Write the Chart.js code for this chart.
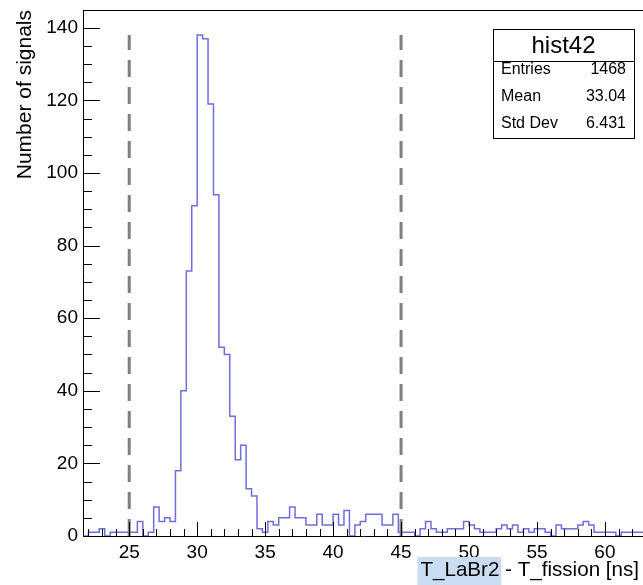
<!DOCTYPE html>
<html><head><meta charset="utf-8">
<script src="https://cdn.jsdelivr.net/npm/chart.js@4.4.1/dist/chart.umd.min.js"></script>
<style>html,body{margin:0;padding:0;background:#fff}#wrap{width:643px;height:585px}</style>
</head><body><div id="wrap"><canvas id="c" width="643" height="585"></canvas></div>
<script>
// ---- data ----
const histName = 'hist42';
const binStart = 21.6;      // lower edge of first shown bin [ns]
const binWidth = 0.4;       // [ns]
const counts = [
  0,1,1,2,0,1,1,1,1,1,
  4,0,1,8,4,5,4,18,40,73,
  91,138,137,119,94,52,50,33,21,25,
  13,11,2,1,4,3,5,5,8,5,
  5,3,3,6,3,3,6,3,7,0,
  3,4,6,6,6,3,3,6,1,1,
  1,0,2,4,2,1,1,2,2,2,
  4,3,2,1,1,1,2,3,2,3,
  1,2,1,2,2,1,0,3,2,2,
  2,3,4,3,1,1,1,1,0,1,
  1,1,1
];
const cutLines = [25, 45];
const cutLineTop = 138;
const statLabels = ['Entries', 'Mean', 'Std Dev'];
const statValues = ['1468', '33.04', '6.431'];
const xTitleParts = ['T_LaBr2', ' - T_fission [ns]'];
const yTitle = 'Number of signals';
const xRange = [21.6, 62.8];
const yRange = [0, 144.9];
const xTickStep = 5, xMinorStep = 1;
const yTickStep = 20, yMinorStep = 5;

// ---- build ----
const histPts = counts.map((c, i) => ({x: binStart + i * binWidth, y: c}));
histPts.push({x: binStart + counts.length * binWidth, y: counts[counts.length - 1]});

const FONT = "'Liberation Sans', Arial, Helvetica, sans-serif";

const cutSets = cutLines.map(v => ({
  data: [{x: v, y: 0}, {x: v, y: cutLineTop}],
  borderColor: '#7f7f7f', borderWidth: 3, borderDash: [17, 10],
  pointRadius: 0, fill: false, tension: 0
}));

const rootPlugin = {
  id: 'rootDecor',
  afterDraw(chart) {
    const ctx = chart.ctx, a = chart.chartArea;
    const xs = chart.scales.x, ys = chart.scales.y;
    ctx.save();
    // top frame line
    ctx.strokeStyle = '#000'; ctx.lineWidth = 1;
    ctx.beginPath(); ctx.moveTo(a.left, a.top + 0.5); ctx.lineTo(a.right, a.top + 0.5); ctx.stroke();
    // y ticks (inward)
    ctx.beginPath();
    for (let v = yRange[0]; v <= yRange[1] + 1e-9; v += yMinorStep) {
      const y = Math.round(ys.getPixelForValue(v)) + 0.5;
      const len = (Math.abs(v % yTickStep) < 1e-6) ? 17 : 9;
      ctx.moveTo(a.left, y); ctx.lineTo(a.left + len, y);
    }
    // x ticks (inward)
    for (let v = Math.ceil(xRange[0]); v <= xRange[1] + 1e-9; v += xMinorStep) {
      const x = Math.round(xs.getPixelForValue(v)) + 0.5;
      const len = (v % xTickStep === 0) ? 14 : 7;
      ctx.moveTo(x, a.bottom); ctx.lineTo(x, a.bottom - len);
    }
    ctx.stroke();

    // x axis title with highlighted first part
    ctx.font = '20.6px ' + FONT;
    const w0 = ctx.measureText(xTitleParts[0]).width;
    const w1 = ctx.measureText(xTitleParts[1]).width;
    const xEnd = 639, base = 576;
    const x0 = xEnd - w0 - w1;
    ctx.fillStyle = '#cadcf2';
    ctx.fillRect(x0 - 3, 557, w0 + 5, 28);
    ctx.fillStyle = '#000';
    ctx.textBaseline = 'alphabetic'; ctx.textAlign = 'left';
    ctx.fillText(xTitleParts[0], x0, base);
    ctx.fillText(xTitleParts[1], x0 + w0, base);

    // stats box
    const bx = 493, by = 29, bw = 141, bh = 109, hh = 32;
    ctx.fillStyle = '#fff';
    ctx.fillRect(bx, by, bw, bh);
    ctx.strokeStyle = '#000'; ctx.lineWidth = 1;
    ctx.strokeRect(bx + 0.5, by + 0.5, bw, bh);
    ctx.beginPath(); ctx.moveTo(bx, by + hh + 0.5); ctx.lineTo(bx + bw, by + hh + 0.5); ctx.stroke();
    ctx.fillStyle = '#000';
    ctx.font = '24px ' + FONT;
    ctx.textAlign = 'center'; ctx.textBaseline = 'middle';
    ctx.fillText(histName, bx + bw / 2, by + hh / 2 + 1);
    ctx.font = '16px ' + FONT;
    const rowH = 27;
    statLabels.forEach((lab, i) => {
      const yy = by + 41 + rowH * i;
      ctx.textAlign = 'left'; ctx.fillText(lab, bx + 8, yy);
      ctx.textAlign = 'right'; ctx.fillText(statValues[i], bx + bw - 8, yy);
    });
    ctx.restore();
  }
};

new Chart(document.getElementById('c'), {
  type: 'line',
  data: {
    datasets: [
      ...cutSets,
      {
        data: histPts, stepped: true,
        borderColor: 'rgba(85,85,215,0.85)', borderWidth: 1.5,
        pointRadius: 0, fill: false
      }
    ]
  },
  options: {
    responsive: false, animation: false, devicePixelRatio: 1,
    layout: {padding: {left: 0, right: 0, top: 10, bottom: 0}},
    plugins: {legend: {display: false}, tooltip: {enabled: false}},
    scales: {
      x: {
        type: 'linear', min: xRange[0], max: xRange[1],
        grid: {display: false, drawTicks: false},
        border: {display: true, color: '#000', width: 1},
        ticks: {stepSize: xTickStep, includeBounds: false, autoSkip: false, maxRotation: 0,
                color: '#000', padding: 5, font: {family: FONT, size: 19}},
        afterFit: s => { s.height = 49; s.paddingLeft = 0; s.paddingRight = 0; }
      },
      y: {
        type: 'linear', min: yRange[0], max: yRange[1],
        grid: {display: false, drawTicks: false},
        border: {display: true, color: '#000', width: 1},
        ticks: {stepSize: yTickStep, includeBounds: false, color: '#000', padding: 5,
                font: {family: FONT, size: 19}},
        title: {display: true, text: yTitle, align: 'end', color: '#000',
                font: {family: FONT, size: 21}, padding: {top: 13, bottom: 0}},
        afterFit: s => { s.width = 83; s.paddingTop = 0; s.paddingBottom = 0; }
      }
    }
  },
  plugins: [rootPlugin]
});
</script></body></html>
